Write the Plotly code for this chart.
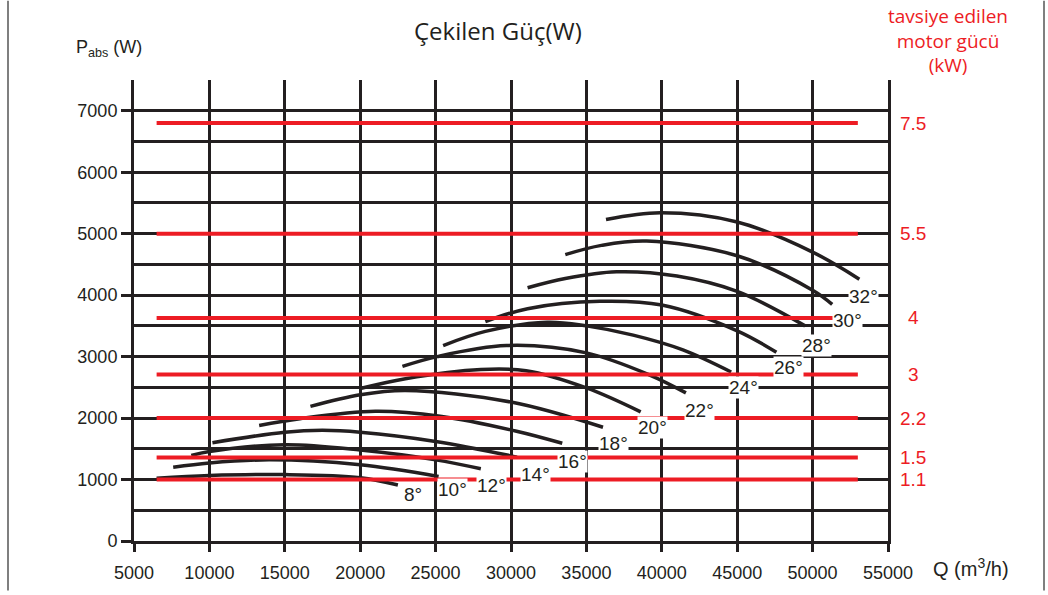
import plotly.graph_objects as go

# pump absorbed power curves, one per blade angle
angles = ["8°", "10°", "12°", "14°", "16°", "18°", "20°", "22°", "24°", "26°", "28°", "30°", "32°"]
q_pts = [
    [6500, 10000, 15000, 20000, 22500],
    [7600, 10000, 14000, 20000, 25200],
    [8800, 10000, 15000, 20000, 25000, 28000],
    [10200, 15000, 17500, 20000, 25000, 30400],
    [13300, 16000, 21000, 25300, 30300, 33400],
    [16700, 20000, 23000, 30000, 36100],
    [20000, 23000, 28000, 31000, 35000, 38600],
    [22800, 25100, 29700, 35000, 39200, 41600],
    [25500, 28300, 32400, 35000, 38100, 41400, 44600],
    [28300, 31100, 35900, 40000, 45000, 47600],
    [31100, 33600, 37000, 41000, 45000, 49500],
    [33600, 36000, 39000, 45000, 50000, 51300],
    [36300, 39900, 45000, 50000, 53100],
]
p_pts = [
    [1020, 1065, 1080, 1030, 910],
    [1200, 1270, 1320, 1240, 1050],
    [1390, 1455, 1565, 1480, 1320, 1175],
    [1600, 1770, 1800, 1770, 1620, 1365],
    [1880, 1990, 2110, 2030, 1790, 1590],
    [2190, 2380, 2450, 2260, 1850],
    [2480, 2640, 2790, 2770, 2490, 2100],
    [2840, 3000, 3180, 3060, 2700, 2410],
    [3180, 3410, 3560, 3500, 3350, 3110, 2750],
    [3570, 3780, 3900, 3840, 3420, 3070],
    [4120, 4270, 4380, 4310, 4060, 3500],
    [4660, 4810, 4880, 4640, 4080, 3850],
    [5230, 5340, 5190, 4700, 4260],
]
# where each angle label sits (Q, W)
label_q = [23500, 26100, 28700, 31600, 34100, 36800, 39350, 42500, 45400, 48400, 50250, 52300, 53400]
label_w = [750, 830, 895, 1090, 1300, 1590, 1850, 2130, 2500, 2825, 3180, 3590, 3980]

# recommended motor power levels
motor_kw = ["7.5", "5.5", "4", "3", "2.2", "1.5", "1.1"]
motor_w = [6800, 5000, 3630, 2710, 2000, 1360, 1000]
motor_q = [6500, 53000]

RED = "#ED1C24"
INK = "#231F20"
NUM = "Liberation Sans, Arial"
TXT = "Open Sans, Noto Sans, sans-serif"

W, H = 1048, 595
L, R, T, B = 134, 160, 80, 50
def px(x):
    return (x - L) / (W - L - R)
def py(y):
    return (H - B - y) / (H - B - T)

fig = go.Figure()
for a, q, p in zip(angles, q_pts, p_pts):
    fig.add_trace(go.Scatter(x=q, y=p, mode="lines", name=a,
                             line=dict(color=INK, width=3.5, shape="spline")))
for kw, w in zip(motor_kw, motor_w):
    fig.add_trace(go.Scatter(x=motor_q, y=[w, w], mode="lines", name=kw,
                             line=dict(color=RED, width=4)))

for a, q, w in zip(angles, label_q, label_w):
    fig.add_annotation(x=q, y=w, text=a, showarrow=False, bgcolor="white",
                       xanchor="center", yanchor="middle",
                       font=dict(family=NUM, size=19, color=INK), borderpad=0)
for kw, w in zip(motor_kw, motor_w):
    fig.add_annotation(x=px(913), xref="paper", y=w, text=kw, showarrow=False,
                       xanchor="center", yanchor="middle",
                       font=dict(family=NUM, size=19, color=RED))

fig.add_annotation(x=px(498), y=py(30), xref="paper", yref="paper", text="Çekilen Güç(W)",
                   xanchor="center", yanchor="middle",
                   showarrow=False, font=dict(family=TXT, size=24, color=INK))
fig.add_annotation(x=px(74), y=py(48), xref="paper", yref="paper", xanchor="left",
                   yanchor="middle", text="P<sub>abs</sub> (W)", showarrow=False,
                   font=dict(family=NUM, size=18, color=INK))
fig.add_annotation(x=px(948), y=py(40), xref="paper", yref="paper",
                   xanchor="center", yanchor="middle",
                   text="tavsiye edilen<br>motor gücü<br>(kW)", showarrow=False,
                   font=dict(family=TXT, size=19, color=RED))
fig.add_annotation(x=px(931), y=py(572), xref="paper", yref="paper", xanchor="left",
                   yanchor="middle", text="Q (m<sup>3</sup>/h)", showarrow=False,
                   font=dict(family=NUM, size=20, color=INK))

# thin page frame at left and right
for xf in (8, 1044):
    fig.add_shape(type="line", xref="paper", yref="paper", x0=px(xf), x1=px(xf),
                  y0=py(H), y1=py(0), line=dict(color="#555", width=1.5))

fig.update_xaxes(range=[5000, 55000], dtick=5000, tickformat="d",
                 showgrid=True, gridcolor=INK, gridwidth=3,
                 showline=True, linecolor=INK, linewidth=3, zeroline=False,
                 ticks="outside", ticklen=8, tickwidth=3, tickcolor=INK,
                 ticklabelstandoff=5,
                 tickfont=dict(family=NUM, size=18, color=INK))
fig.update_yaxes(range=[0, 7500], dtick=1000, tickformat="d",
                 showgrid=True, gridcolor=INK, gridwidth=3,
                 showline=True, linecolor=INK, linewidth=3, mirror=True, zeroline=False,
                 ticks="outside", ticklen=10, tickwidth=3, tickcolor=INK,
                 minor=dict(dtick=500, showgrid=True, gridcolor=INK, gridwidth=3),
                 tickfont=dict(family=NUM, size=18, color=INK))
fig.update_layout(width=W, height=H, margin=dict(l=L, r=R, t=T, b=B),
                  plot_bgcolor="white", paper_bgcolor="white", showlegend=False)

# page has a default body margin; drop it so the figure fills the window
fig.write_html("out.html", config={"displayModeBar": False},
               post_script="document.body.style.margin='0px';")
